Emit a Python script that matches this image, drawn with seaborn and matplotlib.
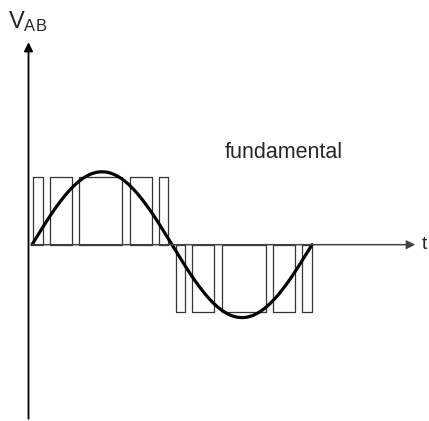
import matplotlib
matplotlib.use('Agg')
import matplotlib.pyplot as plt
import seaborn as sns
import pandas as pd
import numpy as np

# pulse edges (fraction of one period) for the positive and negative half
pos_starts = [0.003, 0.064, 0.168, 0.350, 0.454]
pos_ends = [0.038, 0.142, 0.322, 0.428, 0.487]
neg_starts = [0.514, 0.573, 0.678, 0.860, 0.963]
neg_ends = [0.546, 0.651, 0.835, 0.939, 0.999]
pulse_level = 1.0
fund_amp = 1.08

sns.set_theme(style='white')
plt.rcParams['font.family'] = ['Liberation Sans', 'DejaVu Sans']
plt.rcParams['mathtext.fontset'] = 'custom'
plt.rcParams['mathtext.rm'] = 'Liberation Sans'

# rectangles of the pwm pulses
rows = []
k = 0
for starts, ends, lev in [(pos_starts, pos_ends, pulse_level),
                          (neg_starts, neg_ends, -pulse_level)]:
    for a, b in zip(starts, ends):
        for i, (x, y) in enumerate([(a, 0), (a, lev), (b, lev), (b, 0), (a, 0)]):
            rows.append({'t': x, 'v': y, 'pulse': k, 'ord': i})
        k += 1
df_p = pd.DataFrame(rows)

t = np.linspace(0, 1, 400)
df_f = pd.DataFrame({'t': t, 'v': fund_amp * np.sin(2 * np.pi * t)})

fig = plt.figure(figsize=(4.29, 4.21), dpi=100)
ax = fig.add_axes([0, 0, 1, 1])

sns.lineplot(data=df_p, x='t', y='v', units='pulse', estimator=None, sort=False,
             color='#333333', linewidth=0.9, ax=ax)
sns.lineplot(data=df_f, x='t', y='v', color='black', linewidth=2.3, ax=ax)

# axes with arrows
ax.annotate('', xy=(1.379, 0), xytext=(-0.0125, 0),
            arrowprops=dict(arrowstyle='-|>', color='#444444', lw=1.1, mutation_scale=13))
ax.annotate('', xy=(-0.0125, 3.04), xytext=(-0.0125, -2.62),
            arrowprops=dict(arrowstyle='-|>', color='black', lw=1.3, mutation_scale=13))

ax.text(1.393, 0, 't', fontsize=14, va='center', ha='left')
ax.text(-0.085, 3.30, r'$\mathregular{V_{AB}}$', fontsize=17, va='center', ha='left')
ax.text(0.690, 1.36, 'fundamental', fontsize=15.5, va='center', ha='left')

ax.set_xlim(-0.1143, 1.418)
ax.set_ylim(-2.612, 3.625)
ax.axis('off')

fig.savefig('out.png', dpi=100)
